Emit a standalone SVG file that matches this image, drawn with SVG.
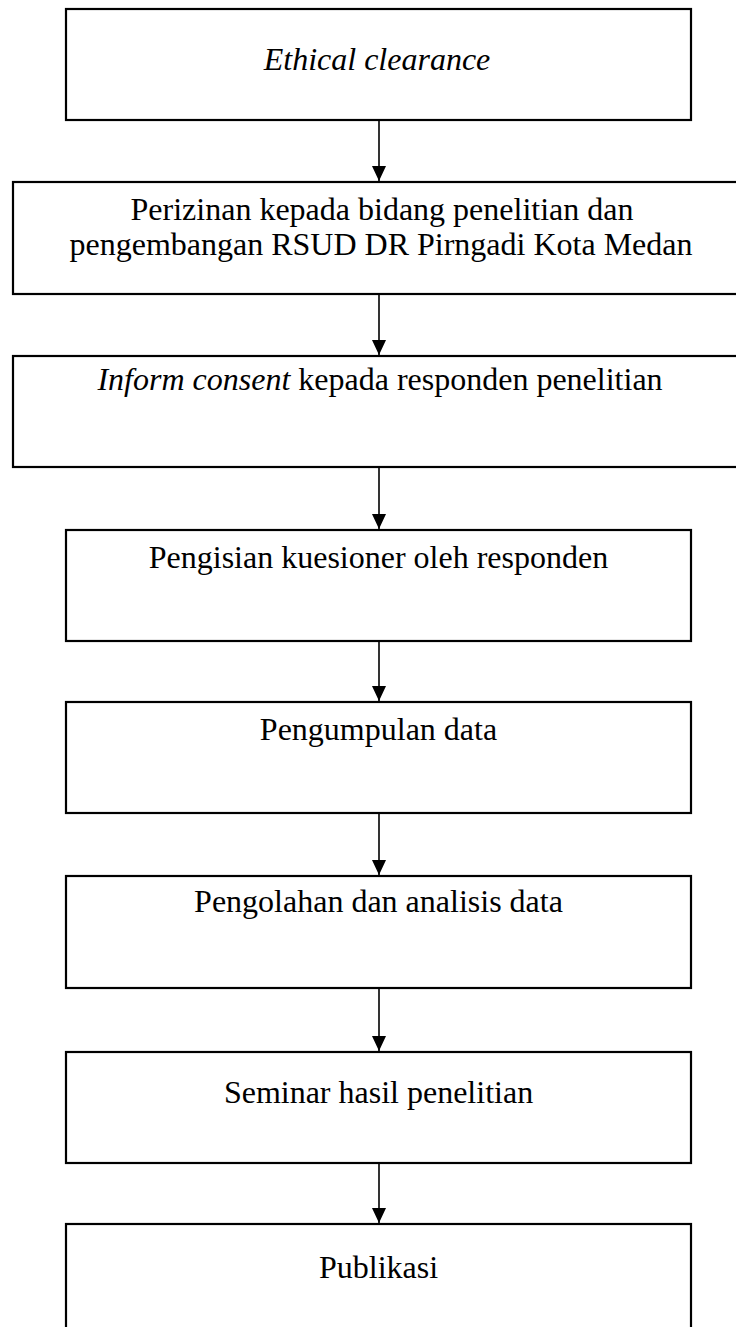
<svg xmlns="http://www.w3.org/2000/svg" width="736" height="1327" viewBox="0 0 736 1327">
<defs>
<style>
.box{fill:#fff;stroke:#000;stroke-width:2.2}
.t{font-family:"Liberation Serif","Times New Roman",serif;font-size:32px;fill:#000;text-anchor:middle}
.i{font-style:italic}
.c{stroke:#000;stroke-width:1.6;fill:none}
</style>
<marker id="ah" markerUnits="userSpaceOnUse" markerWidth="16" markerHeight="16" viewBox="0 0 16 16" refX="15" refY="8" orient="auto">
<path d="M0,1 L15,8 L0,15 Z" fill="#000"/>
</marker>
</defs>
<rect width="736" height="1327" fill="#fff"/>
<g id="n1"><rect class="box" x="66" y="9" width="625" height="111"/><text class="t i" x="377" y="70">Ethical clearance</text></g>
<g id="n2"><rect class="box" x="13" y="182" width="740" height="112"/><text class="t" x="382" y="220">Perizinan kepada bidang penelitian dan</text><text class="t" x="381" y="255">pengembangan RSUD DR Pirngadi Kota Medan</text></g>
<g id="n3"><rect class="box" x="13" y="356" width="740" height="111"/><text class="t" x="380" y="390"><tspan class="i">Inform consent</tspan> kepada responden penelitian</text></g>
<g id="n4"><rect class="box" x="66" y="530" width="625" height="111"/><text class="t" x="378.5" y="568">Pengisian kuesioner oleh responden</text></g>
<g id="n5"><rect class="box" x="66" y="702" width="625" height="111"/><text class="t" x="378.5" y="740">Pengumpulan data</text></g>
<g id="n6"><rect class="box" x="66" y="876" width="625" height="112"/><text class="t" x="378.5" y="912">Pengolahan dan analisis data</text></g>
<g id="n7"><rect class="box" x="66" y="1052" width="625" height="111"/><text class="t" x="378.5" y="1103">Seminar hasil penelitian</text></g>
<g id="n8"><rect class="box" x="66" y="1224" width="625" height="111"/><text class="t" x="378.5" y="1278">Publikasi</text></g>
<g id="connectors">
<line class="c" x1="379" y1="121" x2="379" y2="181" marker-end="url(#ah)"/>
<line class="c" x1="379" y1="295" x2="379" y2="355" marker-end="url(#ah)"/>
<line class="c" x1="379" y1="468" x2="379" y2="529" marker-end="url(#ah)"/>
<line class="c" x1="379" y1="642" x2="379" y2="701" marker-end="url(#ah)"/>
<line class="c" x1="379" y1="814" x2="379" y2="875" marker-end="url(#ah)"/>
<line class="c" x1="379" y1="989" x2="379" y2="1051" marker-end="url(#ah)"/>
<line class="c" x1="379" y1="1164" x2="379" y2="1223" marker-end="url(#ah)"/>
</g>
</svg>
